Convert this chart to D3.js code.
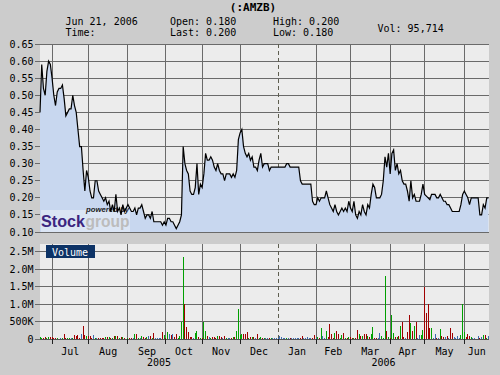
<!DOCTYPE html>
<meta charset="utf-8">
<script src="https://cdn.jsdelivr.net/npm/d3@7"></script>
<style>
    body { margin: 0; background: #cccccc; }
    text { font-family: "DejaVu Sans Mono", monospace; font-size: 10px; fill: #000; }
    .grid line { stroke: #6a6a6a; stroke-width: 1px; shape-rendering: crispEdges; }
    .grid line.yearline { stroke: #5e5e50; stroke-dasharray: 4, 3; }
</style>
<body>
<script>

// quote header
var symbol = "(:AMZB)";
var quoteCols = [["Jun 21, 2006", "Time:"], ["Open: 0.180", "Last: 0.200"], ["High: 0.200", "Low: 0.180"]];
var volText = "Vol: 95,714";

// axis ticks
var priceTicks = [0.10, 0.15, 0.20, 0.25, 0.30, 0.35, 0.40, 0.45, 0.50, 0.55, 0.60, 0.65];
var volTicks = [0, 500, 1000, 1500, 2000, 2500];
var volTickLabels = ["0", "500K", "1.0M", "1.5M", "2.0M", "2.5M"];

// daily closing price, one per weekday from Jun 22 2005 to Jun 21 2006
var closes = [
    0.45, 0.59, 0.52, 0.50, 0.57, 0.60, 0.59, 0.55, 0.50, 0.47,
    0.51, 0.52, 0.52, 0.53, 0.49, 0.44, 0.45, 0.46, 0.46, 0.50, 0.47,
    0.45, 0.40, 0.35, 0.35, 0.28, 0.22, 0.28, 0.26, 0.22, 0.20,
    0.20, 0.25, 0.25, 0.22, 0.21, 0.20, 0.19, 0.20, 0.18, 0.19,
    0.16, 0.18, 0.16, 0.21, 0.16, 0.17, 0.15, 0.18, 0.16, 0.17,
    0.18, 0.17, 0.16, 0.16, 0.17, 0.15, 0.17, 0.17, 0.18, 0.16, 0.14,
    0.15, 0.15, 0.14, 0.16, 0.13, 0.13, 0.13, 0.13, 0.13, 0.12,
    0.13, 0.12, 0.14, 0.14, 0.13, 0.13, 0.12, 0.11, 0.12, 0.13,
    0.15, 0.35, 0.30, 0.28, 0.27, 0.22, 0.21, 0.21, 0.23, 0.30, 0.21,
    0.24, 0.23, 0.27, 0.33, 0.31, 0.31, 0.32, 0.31, 0.29, 0.28,
    0.30, 0.28, 0.27, 0.27, 0.25, 0.27, 0.27, 0.27, 0.26, 0.27,
    0.26, 0.28, 0.37, 0.39, 0.40, 0.35, 0.33, 0.32, 0.33, 0.31,
    0.32, 0.29, 0.29, 0.28, 0.31, 0.33, 0.29, 0.30, 0.30, 0.30, 0.28,
    0.29, 0.29, 0.29, 0.29, 0.29, 0.29, 0.29, 0.29, 0.29, 0.30,
    0.30, 0.29, 0.29, 0.29, 0.29, 0.29, 0.29, 0.25, 0.24, 0.24,
    0.24, 0.24, 0.24, 0.24, 0.19, 0.18, 0.18, 0.20, 0.19, 0.20, 0.20,
    0.20, 0.22, 0.20, 0.18, 0.17, 0.16, 0.18, 0.16, 0.15, 0.16,
    0.17, 0.16, 0.17, 0.16, 0.19, 0.17, 0.16, 0.19, 0.15, 0.14,
    0.16, 0.15, 0.18, 0.16, 0.15, 0.18, 0.17, 0.21, 0.24, 0.23,
    0.20, 0.20, 0.20, 0.21, 0.25, 0.32, 0.29, 0.33, 0.27, 0.33, 0.34,
    0.28, 0.30, 0.27, 0.28, 0.25, 0.24, 0.24, 0.22, 0.19, 0.25,
    0.20, 0.21, 0.19, 0.19, 0.19, 0.21, 0.24, 0.21, 0.205, 0.20,
    0.195, 0.21, 0.21, 0.21, 0.20, 0.20, 0.21, 0.20, 0.19, 0.19, 0.18,
    0.18, 0.17, 0.16, 0.16, 0.16, 0.16, 0.16, 0.18, 0.21, 0.22,
    0.21, 0.20, 0.18, 0.20, 0.20, 0.20, 0.20, 0.20, 0.15, 0.15,
    0.18, 0.17, 0.20, 0.20
];

// daily volume, thousands of shares
var volumes = [
    60, 30, 20, 50, 20, 50, 50, 50, 20, 30,
    30, 10, 20, 30, 150, 30, 30, 30, 20, 20, 120,
    100, 120, 20, 150, 370, 120, 100, 80, 80, 20,
    120, 30, 20, 30, 20, 20, 30, 50, 50, 50,
    20, 30, 80, 80, 80, 30, 50, 50, 20, 10,
    20, 20, 30, 20, 150, 150, 20, 30, 80, 60, 30,
    50, 80, 80, 30, 180, 20, 40, 20, 20, 200,
    120, 30, 200, 150, 120, 150, 50, 150, 30, 100,
    500, 2330, 1000, 350, 200, 60, 60, 20, 180, 230, 50,
    20, 20, 500, 230, 80, 50, 20, 50, 50, 20,
    80, 80, 50, 20, 80, 30, 30, 20, 30, 50,
    50, 220, 850, 120, 150, 150, 150, 200, 20, 50,
    50, 50, 20, 150, 20, 50, 20, 20, 20, 20, 20,
    20, 20, 20, 30, 20, 80, 50, 20, 20, 30,
    20, 30, 20, 20, 20, 20, 20, 20, 80, 20,
    20, 50, 20, 20, 20, 120, 20, 50, 20, 320, 80,
    20, 230, 50, 430, 130, 30, 180, 230, 150, 30,
    120, 180, 20, 20, 50, 50, 20, 30, 20, 260,
    150, 80, 100, 150, 150, 80, 50, 150, 350, 30,
    30, 20, 180, 80, 20, 1800, 230, 60, 20, 700, 180,
    50, 50, 80, 360, 500, 50, 20, 200, 700, 450,
    240, 380, 500, 20, 120, 120, 270, 1480, 740, 1000,
    320, 320, 20, 130, 20, 20, 300, 90, 60, 50, 100,
    20, 320, 180, 50, 20, 80, 20, 120, 1000, 200,
    50, 150, 80, 50, 30, 20, 10, 80, 20, 50,
    120, 120, 20, 96
];

var width = 500,
    height = 375;

var startDate = new Date(2005, 5, 22),
    endDate = new Date(2006, 5, 21);

// chart plots one slot per weekday
var days = d3.timeDay.range(startDate, d3.timeDay.offset(endDate, 1))
    .filter(function (d) { return d.getDay() % 6 !== 0; });

var data = days.map(function (d, i) {
    return { i: i, date: d, close: closes[i], volume: volumes[i] };
});
data.forEach(function (d, i) {
    var prev = i > 0 ? data[i - 1].close : 0;
    d.move = d.close > prev ? "up" : (d.close < prev ? "down" : "flat");
});

var moveColor = { up: "#00a000", down: "#a00000", flat: "#3b6cae" };

// first weekday of each month
var months = data.filter(function (d, i) {
    return i > 0 && d.date.getMonth() !== data[i - 1].date.getMonth();
});
var yearStart = months.filter(function (d) { return d.date.getMonth() === 0; })[0];

var left = 40, right = 489;
var priceTop = 44, priceBottom = 232;
var volTop = 244, volBottom = 339;

var x = d3.scaleLinear().domain([0, days.length - 1]).range([left, 488.5]);
var yP = d3.scaleLinear().domain([0.10, 0.65]).range([priceBottom, priceTop]);
var yV = d3.scaleLinear().domain([0, 2500]).range([volBottom, 251.5]);

function px(v) { return Math.floor(v) + 0.5; }

var svg = d3.select("body").append("svg")
    .attr("width", width)
    .attr("height", height);

svg.append("rect")
    .attr("width", width).attr("height", height)
    .attr("fill", "#cccccc");

// header
svg.append("text")
    .text(symbol)
    .attr("x", 253).attr("y", 11)
    .style("text-anchor", "middle")
    .style("font-weight", "bold")
    .style("font-size", "11px");

var colX = [65.5, 170, 273];
quoteCols.forEach(function (col, i) {
    col.forEach(function (t, j) {
        svg.append("text").text(t)
            .attr("x", colX[i]).attr("y", 25 + j * 11);
    });
});
svg.append("text").text(volText).attr("x", 377.5).attr("y", 31.5);

// ---------- price panel ----------
svg.append("rect")
    .attr("x", left).attr("y", priceTop)
    .attr("width", right - left).attr("height", priceBottom - priceTop)
    .attr("fill", "#ececec");

var pGrid = svg.append("g").attr("class", "grid");
pGrid.selectAll("line.h")
    .data(priceTicks)
    .enter().append("line")
    .attr("class", "h")
    .attr("x1", left).attr("x2", right)
    .attr("y1", function (d) { return px(yP(d)); })
    .attr("y2", function (d) { return px(yP(d)); });
pGrid.selectAll("line.v")
    .data(months)
    .enter().append("line")
    .attr("class", function (d) { return d === yearStart ? "v yearline" : "v"; })
    .attr("x1", function (d) { return px(x(d.i)); })
    .attr("x2", function (d) { return px(x(d.i)); })
    .attr("y1", priceTop).attr("y2", priceBottom);

var area = d3.area()
    .x(function (d) { return x(d.i); })
    .y0(yP(0.10))
    .y1(function (d) { return yP(d.close); });

var line = d3.line()
    .x(function (d) { return x(d.i); })
    .y(function (d) { return yP(d.close); });

svg.append("path")
    .datum(data)
    .attr("d", area)
    .attr("fill", "#c8d7ef");

// watermark
var logo = svg.append("g");
logo.append("rect")
    .attr("x", 41).attr("y", 210).attr("width", 89).attr("height", 22)
    .attr("fill", "#ffffff").attr("opacity", 0.35);
logo.append("text").text("Stock")
    .attr("x", 41).attr("y", 226.5)
    .attr("textLength", 44).attr("lengthAdjust", "spacingAndGlyphs")
    .style("font-family", "Liberation Sans, Arial, sans-serif")
    .style("font-weight", "bold").style("font-size", "17px")
    .style("fill", "#3c2580");
logo.append("text").text("group")
    .attr("x", 85.5).attr("y", 226.5)
    .attr("textLength", 44).attr("lengthAdjust", "spacingAndGlyphs")
    .style("font-family", "Liberation Sans, Arial, sans-serif")
    .style("font-weight", "bold").style("font-size", "17px")
    .style("fill", "#bcbcbc");
logo.append("text").text("powered by")
    .attr("x", 86).attr("y", 211.5)
    .attr("textLength", 43).attr("lengthAdjust", "spacingAndGlyphs")
    .style("font-family", "Liberation Sans, Arial, sans-serif")
    .style("font-weight", "bold").style("font-style", "italic").style("font-size", "7px")
    .style("fill", "#222");

svg.append("path")
    .datum(data)
    .attr("d", line)
    .attr("fill", "none")
    .attr("stroke", "#000")
    .attr("stroke-width", 1.2);

// redraw bottom frame line over the fill
svg.append("line")
    .attr("x1", left).attr("x2", right)
    .attr("y1", px(yP(0.10))).attr("y2", px(yP(0.10)))
    .attr("stroke", "#6a6a6a").style("shape-rendering", "crispEdges");

// price axis labels + ticks
var pAxis = svg.append("g");
pAxis.selectAll("line")
    .data(priceTicks)
    .enter().append("line")
    .attr("x1", 35).attr("x2", left)
    .attr("y1", function (d) { return px(yP(d)); })
    .attr("y2", function (d) { return px(yP(d)); })
    .attr("stroke", "#6a6a6a").style("shape-rendering", "crispEdges");
pAxis.selectAll("text")
    .data(priceTicks)
    .enter().append("text")
    .text(function (d) { return d3.format(".2f")(d); })
    .attr("x", 33.5)
    .attr("y", function (d) { return yP(d) + 3.5; })
    .style("text-anchor", "end");

// ---------- volume panel ----------
svg.append("rect")
    .attr("x", left).attr("y", volTop)
    .attr("width", right - left).attr("height", volBottom - volTop)
    .attr("fill", "#ececec");

var vGrid = svg.append("g").attr("class", "grid");
vGrid.selectAll("line.h")
    .data(volTicks)
    .enter().append("line")
    .attr("class", "h")
    .attr("x1", left).attr("x2", right)
    .attr("y1", function (d) { return px(yV(d)); })
    .attr("y2", function (d) { return px(yV(d)); });
vGrid.selectAll("line.v")
    .data(months)
    .enter().append("line")
    .attr("class", function (d) { return d === yearStart ? "v yearline" : "v"; })
    .attr("x1", function (d) { return px(x(d.i)); })
    .attr("x2", function (d) { return px(x(d.i)); })
    .attr("y1", volTop).attr("y2", volBottom);

svg.append("g")
    .selectAll("rect")
    .data(data)
    .enter().append("rect")
    .attr("x", function (d) { return Math.floor(x(d.i)); })
    .attr("width", 1)
    .attr("y", function (d) { return Math.round(yV(d.volume)); })
    .attr("height", function (d) { return volBottom - Math.round(yV(d.volume)); })
    .attr("fill", function (d) { return moveColor[d.move]; })
    .style("shape-rendering", "crispEdges");

svg.append("line")
    .attr("x1", left).attr("x2", right)
    .attr("y1", px(yV(0))).attr("y2", px(yV(0)))
    .attr("stroke", "#555").style("shape-rendering", "crispEdges");

// Volume tag
svg.append("rect")
    .attr("x", 46).attr("y", 245).attr("width", 49).attr("height", 13)
    .attr("fill", "#0d3366");
svg.append("text").text("Volume")
    .attr("x", 52).attr("y", 255.5)
    .style("fill", "#ffffff");

var vAxis = svg.append("g");
vAxis.selectAll("line")
    .data(volTicks)
    .enter().append("line")
    .attr("x1", 35).attr("x2", left)
    .attr("y1", function (d) { return px(yV(d)); })
    .attr("y2", function (d) { return px(yV(d)); })
    .attr("stroke", "#6a6a6a").style("shape-rendering", "crispEdges");
vAxis.selectAll("text")
    .data(volTicks)
    .enter().append("text")
    .text(function (d, i) { return volTickLabels[i]; })
    .attr("x", 33.5)
    .attr("y", function (d) { return yV(d) + 3.5; })
    .style("text-anchor", "end");

// time axis: month ticks, month and year labels
var tAxis = svg.append("g");
tAxis.selectAll("line")
    .data(months)
    .enter().append("line")
    .attr("x1", function (d) { return px(x(d.i)); })
    .attr("x2", function (d) { return px(x(d.i)); })
    .attr("y1", volBottom).attr("y2", volBottom + 5)
    .attr("stroke", "#222").style("shape-rendering", "crispEdges");

var fmtMonth = d3.timeFormat("%b");
tAxis.selectAll("text.month")
    .data(months)
    .enter().append("text")
    .attr("class", "month")
    .text(function (d) { return fmtMonth(d.date); })
    .attr("x", function (d, k) {
        var next = k + 1 < months.length ? x(months[k + 1].i) : right;
        return (x(d.i) + next) / 2;
    })
    .attr("y", 355)
    .style("text-anchor", "middle");

var years = [[left, x(yearStart.i), "2005"], [x(yearStart.i), right, "2006"]];
tAxis.selectAll("text.year")
    .data(years)
    .enter().append("text")
    .attr("class", "year")
    .text(function (d) { return d[2]; })
    .attr("x", function (d) { return (d[0] + d[1]) / 2; })
    .attr("y", 365.5)
    .style("text-anchor", "middle");

</script>
</body>
